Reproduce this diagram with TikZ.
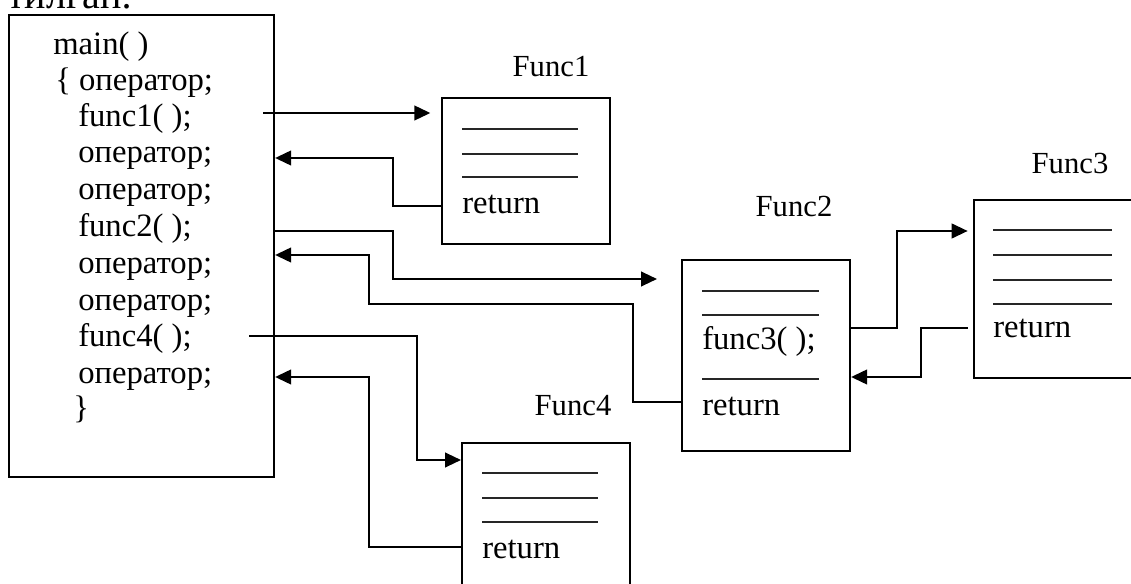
\documentclass[tikz,border=0pt]{standalone}
\usepackage{fontspec}
\setmainfont{Liberation Serif}
\usetikzlibrary{arrows.meta}

\tikzset{
  box/.style={draw, line width=1.6pt, anchor=north west, inner sep=0pt},
  code/.style={anchor=base west, inner sep=0pt, font=\fontsize{24.5}{29}\selectfont},
  title/.style={anchor=base, inner sep=0pt, font=\fontsize{23}{27}\selectfont},
  blank/.style={line width=0.8pt, black!85},
  link/.style={line width=1.6pt},
  call/.style={link, -{Triangle[length=12pt,width=11pt]}},
}

\begin{document}
\begin{tikzpicture}[x=0.75pt,y=-0.75pt]
  \useasboundingbox (0,0) rectangle (1131,584);
  % text cut off above the picture
  \node[anchor=base east, inner sep=0pt, font=\fontsize{30}{34}\selectfont] (top) at (133,9) {тилган:};
  % boxes
  \node[box, minimum width=198.75pt, minimum height=346.5pt] (main) at (8,14) {};
  \node[box, minimum width=126pt, minimum height=109.5pt] (f1) at (441,97) {};
  \node[box, minimum width=126pt, minimum height=143.25pt] (f2) at (681,259) {};
  \node[box, minimum width=126pt, minimum height=133.5pt] (f3) at (973,199) {};
  \node[box, minimum width=126pt, minimum height=130pt] (f4) at (461,442) {};
  % titles
  \path
    (551,77) node[title] (t1) {Func1}
    (794,217) node[title] (t2) {Func2}
    (1070,174) node[title] (t3) {Func3}
    (573,416) node[title] (t4) {Func4};
  % main( )
  \path
    (53,55) node[code] (m0) {main( )}
    (55,91) node[code] (m1) {\{ оператор;}
    (78,127) node[code] (m2) {func1( );}
    (78,163) node[code] (m3) {оператор;}
    (78,200) node[code] (m4) {оператор;}
    (78,237) node[code] (m5) {func2( );}
    (78,274) node[code] (m6) {оператор;}
    (78,311) node[code] (m7) {оператор;}
    (78,347) node[code] (m8) {func4( );}
    (78,383) node[code] (m9) {оператор;}
    (73,418) node[code] (m10) {\}};
  % function bodies
  \draw[blank] (462,129) -- ++(116,0);
  \draw[blank] (462,154) -- ++(116,0);
  \draw[blank] (462,177) -- ++(116,0);
  \node[code] (r1) at (462,214) {return};
  \draw[blank] (702,291) -- ++(117,0);
  \draw[blank] (702,315) -- ++(117,0);
  \node[code] (c3) at (702,350) {func3( );};
  \draw[blank] (702,379) -- ++(117,0);
  \node[code] (r2) at (702,415) {return};
  \draw[blank] (993,230) -- ++(119,0);
  \draw[blank] (993,255) -- ++(119,0);
  \draw[blank] (993,280) -- ++(119,0);
  \draw[blank] (993,304) -- ++(119,0);
  \node[code] (r3) at (993,338) {return};
  \draw[blank] (482,473) -- ++(116,0);
  \draw[blank] (482,498) -- ++(116,0);
  \draw[blank] (482,522) -- ++(116,0);
  \node[code] (r4) at (482,558) {return};
  % calls and returns
  \coordinate (s1) at (263,113);
  \coordinate (s4) at (249,336);
  \draw[call, shorten >=8pt] (s1) -- (f1.west |- s1);
  \draw[call] (f1.west |- 0,206) -| (393,158) -- (main.east |- 0,158);
  \draw[call, shorten >=18pt] (main.east |- 0,231) -| (393,279) -- (f2.west |- 0,279);
  \draw[call] (f2.west |- 0,402) -| (633,304) -| (369,255) -- (main.east |- 0,255);
  \draw[call, shorten >=4pt] (f2.east |- 0,328) -| (897,231) -- (f3.west |- 0,231);
  \draw[call, shorten <=4pt] (f3.west |- 0,328) -| (921,377) -- (f2.east |- 0,377);
  \draw[call] (s4) -| (417,460) -- (f4.west |- 0,460);
  \draw[call] (f4.west |- 0,547) -| (369,377) -- (main.east |- 0,377);
\end{tikzpicture}
\end{document}
